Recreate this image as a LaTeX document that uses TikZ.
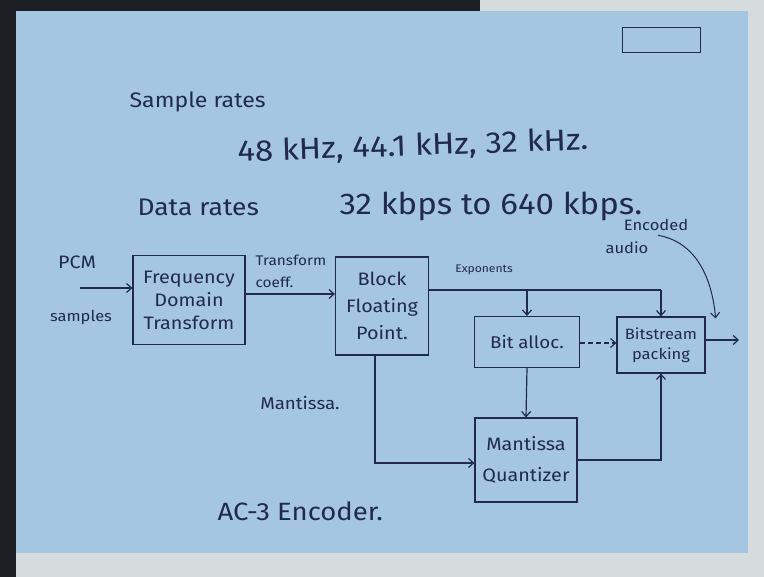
\documentclass[tikz,border=0pt]{standalone}
\usepackage{fontspec}
\setmainfont{Fira Sans}
\newfontfamily\handfont[FakeStretch=1.1]{Fira Sans}
\newcommand{\hsz}[2]{\handfont\fontsize{#1}{#2}\selectfont}
\usepackage{tikz}
\usetikzlibrary{positioning,calc,arrows.meta}
\definecolor{slideblue}{RGB}{164,198,225}
\definecolor{inkblue}{RGB}{32,42,78}
\definecolor{frameblack}{RGB}{28,30,36}
\definecolor{deskgrey}{RGB}{214,220,222}

\begin{document}
\begin{tikzpicture}[x=1pt, y=-1pt, >={Straight Barb[length=5pt, width=9pt]}, inkblue, line width=1.2pt,
    blockbox/.style={draw, rectangle, align=center, inner sep=2pt},
    handtext/.style={inner sep=1pt},
    smalltext/.style={inner sep=1pt, align=center}]
    % Background
    \useasboundingbox (0,0) rectangle (764,577);
    \fill[deskgrey] (0,0) rectangle (764,577);
    \fill[frameblack] (0,0) rectangle (480,11);
    \fill[frameblack] (0,0) rectangle (16,577);
    \fill[slideblue] (16,11) rectangle (748,553);
    \draw[line width=0.8pt] (622,27) rectangle (700,52);

    % Header texts
    \node[handtext, anchor=west, font=\hsz{21}{25}] (srates) at (128,102) {Sample rates};
    \node[handtext, anchor=west, font=\hsz{30}{36}, rotate=2] (srvals) at (236,153) {48 kHz, 44.1 kHz, 32 kHz.};
    \node[handtext, anchor=west, font=\hsz{24}{28}] (drates) at (136,207) {Data rates};
    \node[handtext, anchor=west, font=\hsz{30}{36}] (drvals) at (338,206) {32 kbps to 640 kbps.};

    % Blocks
    \node[blockbox, font=\hsz{18}{23}, minimum width=112pt, minimum height=89pt] (fdt) at (189,300) {Frequency\\Domain\\Transform};
    \node[blockbox, font=\hsz{18}{27}, minimum width=93pt, minimum height=98pt] (bfp) at (382,306) {Block\\Floating\\Point.};
    \node[blockbox, font=\hsz{17}{21}, minimum width=105pt, minimum height=51pt] (alloc) at (527,342) {Bit alloc.};
    \node[blockbox, font=\hsz{15}{20}, minimum width=88pt, minimum height=56pt] (pack) at (661,345) {Bitstream\\packing};
    \node[blockbox, font=\hsz{18}{31}, minimum width=102pt, minimum height=84pt] (quant) at (526,460) {Mantissa\\Quantizer};

    % Labels
    \node[smalltext, font=\hsz{18}{22}] (pcm) at (77,262) {PCM};
    \node[smalltext, font=\hsz{15}{18}] (samp) at (81,317) {samples};
    \node[smalltext, align=left, anchor=west, font=\hsz{14}{22}] (coeff) at (254,271) {Transform\\coeff.};
    \node[smalltext, font=\hsz{11}{14}] (expo) at (484,270) {Exponents};
    \node[smalltext, font=\hsz{15}{18}] (enc) at (656,225) {Encoded};
    \node[smalltext, font=\hsz{15}{18}] (encaudio) at (627,248) {audio};
    \node[smalltext, font=\hsz{17}{20}] (mant) at (300,403) {Mantissa.};
    \node[handtext, anchor=west, font=\hsz{25}{30}] (title) at (216,511) {AC-3 Encoder.};

    % Arrows
    \coordinate (pcmin) at (80,288);
    \coordinate (outend) at (739,340);
    \draw[->] (pcmin) -- (fdt.west |- pcmin);
    \draw[->] (fdt.east |- 0,294) -- (bfp.west |- 0,294);
    \coordinate (expstart) at (bfp.east |- 0,290);
    \coordinate (expend) at (pack.north |- 0,290);
    \draw (expstart) -- (expend);
    \draw[->] (alloc.north |- expstart) -- (alloc.north);
    \draw[->] (expend) -- (pack.north);
    \draw[->, dash pattern=on 5pt off 3pt] (alloc.east |- 0,343) -- (pack.west |- 0,343);
    \draw[->] (pack.east |- outend) -- (outend);
    \draw[->, line width=1pt] ($(enc.south)+(2,3)$) to[out=-10, in=95] ($(pack.north east)+(10,2)$);
    \draw[->] (alloc.south) -- (quant.north);
    \coordinate (mantturn) at (375,463);
    \draw[->] (bfp.south -| mantturn) -- (mantturn) -- (quant.west |- mantturn);
    \coordinate (qturn) at (pack.south |- 0,460);
    \draw[->] (quant.east |- qturn) -- (qturn) -- (pack.south);
\end{tikzpicture}
\end{document}
